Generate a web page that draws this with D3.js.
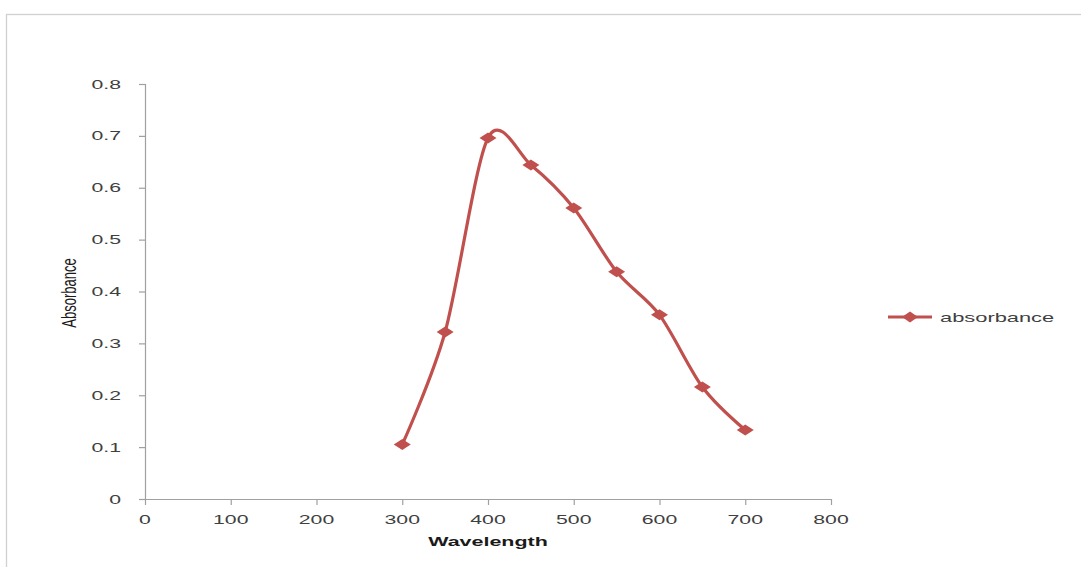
<!DOCTYPE html>
<html>
<head>
<meta charset="utf-8">
<script src="https://cdn.jsdelivr.net/npm/d3@7"></script>
<style>
  html, body { margin: 0; padding: 0; background: #ffffff; }
  svg { display: block; }
</style>
</head>
<body>
<svg id="chart" width="1081" height="567"></svg>
<script>
// ---- data ----
const wavelengths = [300, 350, 400, 450, 500, 550, 600, 650, 700];
const absorbance = [0.105, 0.322, 0.696, 0.644, 0.561, 0.438, 0.355, 0.216, 0.133];
const xTicks = [0, 100, 200, 300, 400, 500, 600, 700, 800];
const yTicks = [0, 0.1, 0.2, 0.3, 0.4, 0.5, 0.6, 0.7, 0.8];
const seriesName = "absorbance";
const xTitle = "Wavelength";
const yTitle = "Absorbance";

const svg = d3.select("#chart");
const color = "#c0504d";
const textColor = "#404040";
const axisColor = "#a0a0a0";
const SX = 1.7; // horizontal stretch of the reference picture

// chart area border (clipped by the picture edges)
svg.append("rect")
  .attr("x", 6.5).attr("y", 14.5)
  .attr("width", 1100).attr("height", 600)
  .attr("fill", "#ffffff")
  .attr("stroke", "#d0d0d0").attr("stroke-width", 1.3);

const x = d3.scaleLinear().domain([0, 800]).range([145, 831]);
const y = d3.scaleLinear().domain([0, 0.8]).range([499, 84]);

function stretchedText(g, tx, ty, txt, opts) {
  return g.append("text")
    .attr("transform", `translate(${tx},${ty}) scale(${opts.sx || SX},1)`)
    .attr("text-anchor", opts.anchor || "middle")
    .attr("font-family", "'Liberation Sans', Arial, sans-serif")
    .attr("font-size", opts.size || 12.5)
    .attr("font-weight", opts.weight || "normal")
    .attr("fill", opts.fill || textColor)
    .text(txt);
}

// axes using d3 axis generators
const xAxis = d3.axisBottom(x).tickValues(xTicks).tickSize(6).tickFormat("");
const yAxis = d3.axisLeft(y).tickValues(yTicks).tickSize(6).tickFormat("");

const gx = svg.append("g").attr("transform", `translate(0,${y(0)})`).call(xAxis);
const gy = svg.append("g").attr("transform", `translate(${x(0)},0)`).call(yAxis);
[gx, gy].forEach(g => {
  g.select(".domain").attr("stroke", axisColor).attr("stroke-width", 1.2);
  g.selectAll(".tick line").attr("stroke", axisColor).attr("stroke-width", 1.2);
});
gx.select(".domain").attr("d", `M${x(0)},0.5H${x(800)}`);
gy.select(".domain").attr("d", `M0.5,${y(0)}V${y(0.8)}`);

const labels = svg.append("g");
xTicks.forEach(t => stretchedText(labels, x(t), y(0) + 25, String(t), {}));
yTicks.forEach(t => stretchedText(labels, x(0) - 24, y(t) + 4.5, t === 0 ? "0" : d3.format(".1f")(t), { anchor: "end" }));

// axis titles
stretchedText(svg, 488, 546, xTitle, { weight: "bold", size: 13, sx: 1.65, fill: "#1a1a1a" });
svg.append("text")
  .attr("transform", `translate(76,293) rotate(-90) scale(1,1.6)`)
  .attr("text-anchor", "middle")
  .attr("font-family", "'Liberation Sans', Arial, sans-serif")
  .attr("font-size", 13)
  .attr("fill", "#1a1a1a")
  .text(yTitle);

// series line (smoothed)
const pts = wavelengths.map((w, i) => [x(w), y(absorbance[i])]);
const line = d3.line().curve(d3.curveCardinal.tension(0.1));
svg.append("path")
  .attr("d", line(pts))
  .attr("fill", "none")
  .attr("stroke", color)
  .attr("stroke-width", 3.2)
  .attr("stroke-linejoin", "round");

// diamond markers
const diamond = (cx, cy, hw, hh) => `M${cx - hw},${cy}L${cx},${cy - hh}L${cx + hw},${cy}L${cx},${cy + hh}Z`;
svg.append("g").selectAll("path")
  .data(pts)
  .join("path")
  .attr("d", d => diamond(d[0], d[1], 8.5, 5.5))
  .attr("fill", color);

// legend
const lg = svg.append("g");
lg.append("line").attr("x1", 888).attr("x2", 932).attr("y1", 317).attr("y2", 317)
  .attr("stroke", color).attr("stroke-width", 3.2);
lg.append("path").attr("d", diamond(910, 317, 8, 5.5)).attr("fill", color);
stretchedText(lg, 940, 322, seriesName, { anchor: "start", size: 12.5, sx: 1.75 });
</script>
</body>
</html>
